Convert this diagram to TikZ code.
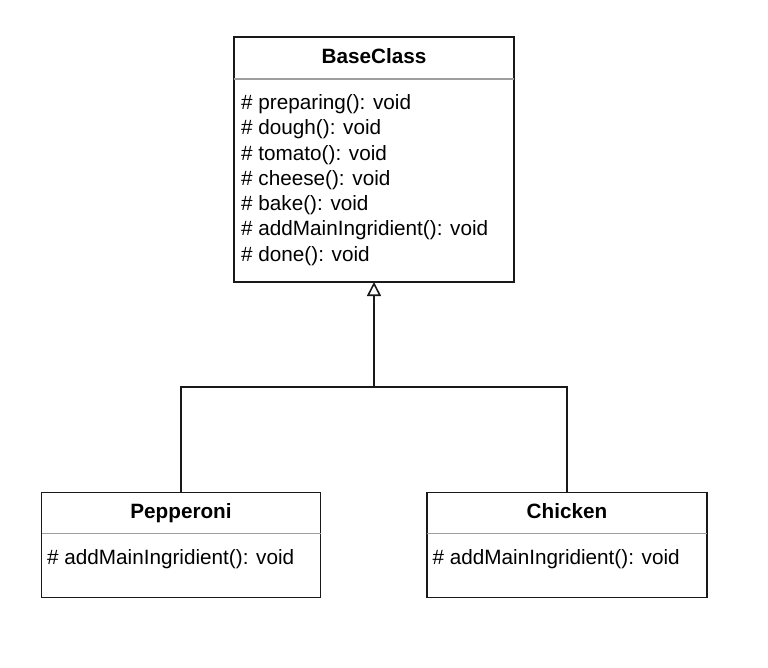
\documentclass[tikz,border=0pt]{standalone}
\usepackage{fontspec}
\setmainfont{Liberation Sans}
\usetikzlibrary{arrows.meta}
\begin{document}
\begin{tikzpicture}[x=1pt,y=-1pt,
  classbox/.style={draw=black!90,line width=1.8pt,inner sep=0pt,outer sep=0pt,fill=white},
  sepline/.style={draw=black!38,line width=1.4pt},
  titletext/.style={font=\fontsize{20.7}{25}\selectfont\bfseries,anchor=base,inner sep=0pt},
  methtext/.style={font=\fontsize{20.7}{25}\selectfont,anchor=base west,inner sep=0pt},
  conn/.style={draw=black!90,line width=1.8pt},
  inherit/.style={conn,-{Triangle[open,length=14pt,width=14pt,line width=1.6pt]}}]
\useasboundingbox[fill=white] (0,0) rectangle (768,668);
% BaseClass
\node[classbox,minimum width=280pt,minimum height=245pt] (base) at (374,159.5) {};
\node[titletext] (basetitle) at (374,63.5) {BaseClass};
\draw[sepline] ([yshift=-42pt]base.north west) coordinate (bs1) -- ([yshift=-42pt]base.north east) coordinate (bs2);
\foreach \t [count=\i] in {preparing,dough,tomato,cheese,bake,addMainIngridient,done}{
  \node[methtext] (m\i) at (241,{109.5+(\i-1)*25.3}) {\# \t(): void};
}
% Pepperoni
\node[classbox,minimum width=279pt,minimum height=105pt] (pep) at (181,545) {};
\node[titletext] (peptitle) at (181,518) {Pepperoni};
\draw[sepline] ([yshift=-41pt]pep.north west) coordinate (ps1) -- ([yshift=-41pt]pep.north east) coordinate (ps2);
\node[methtext] (pepm) at (47,564.5) {\# addMainIngridient(): void};
% Chicken
\node[classbox,minimum width=280pt,minimum height=105pt] (chk) at (567,545) {};
\node[titletext] (chktitle) at (567,518) {Chicken};
\draw[sepline] ([yshift=-41pt]chk.north west) coordinate (cs1) -- ([yshift=-41pt]chk.north east) coordinate (cs2);
\node[methtext] (chkm) at (432.5,564.5) {\# addMainIngridient(): void};
% Connectors
\coordinate (jn) at (374,387);
\draw[conn] (pep.north) |- (jn);
\draw[conn] (chk.north) |- (jn);
\draw[inherit] (jn) -- (base.south);
\end{tikzpicture}
\end{document}
